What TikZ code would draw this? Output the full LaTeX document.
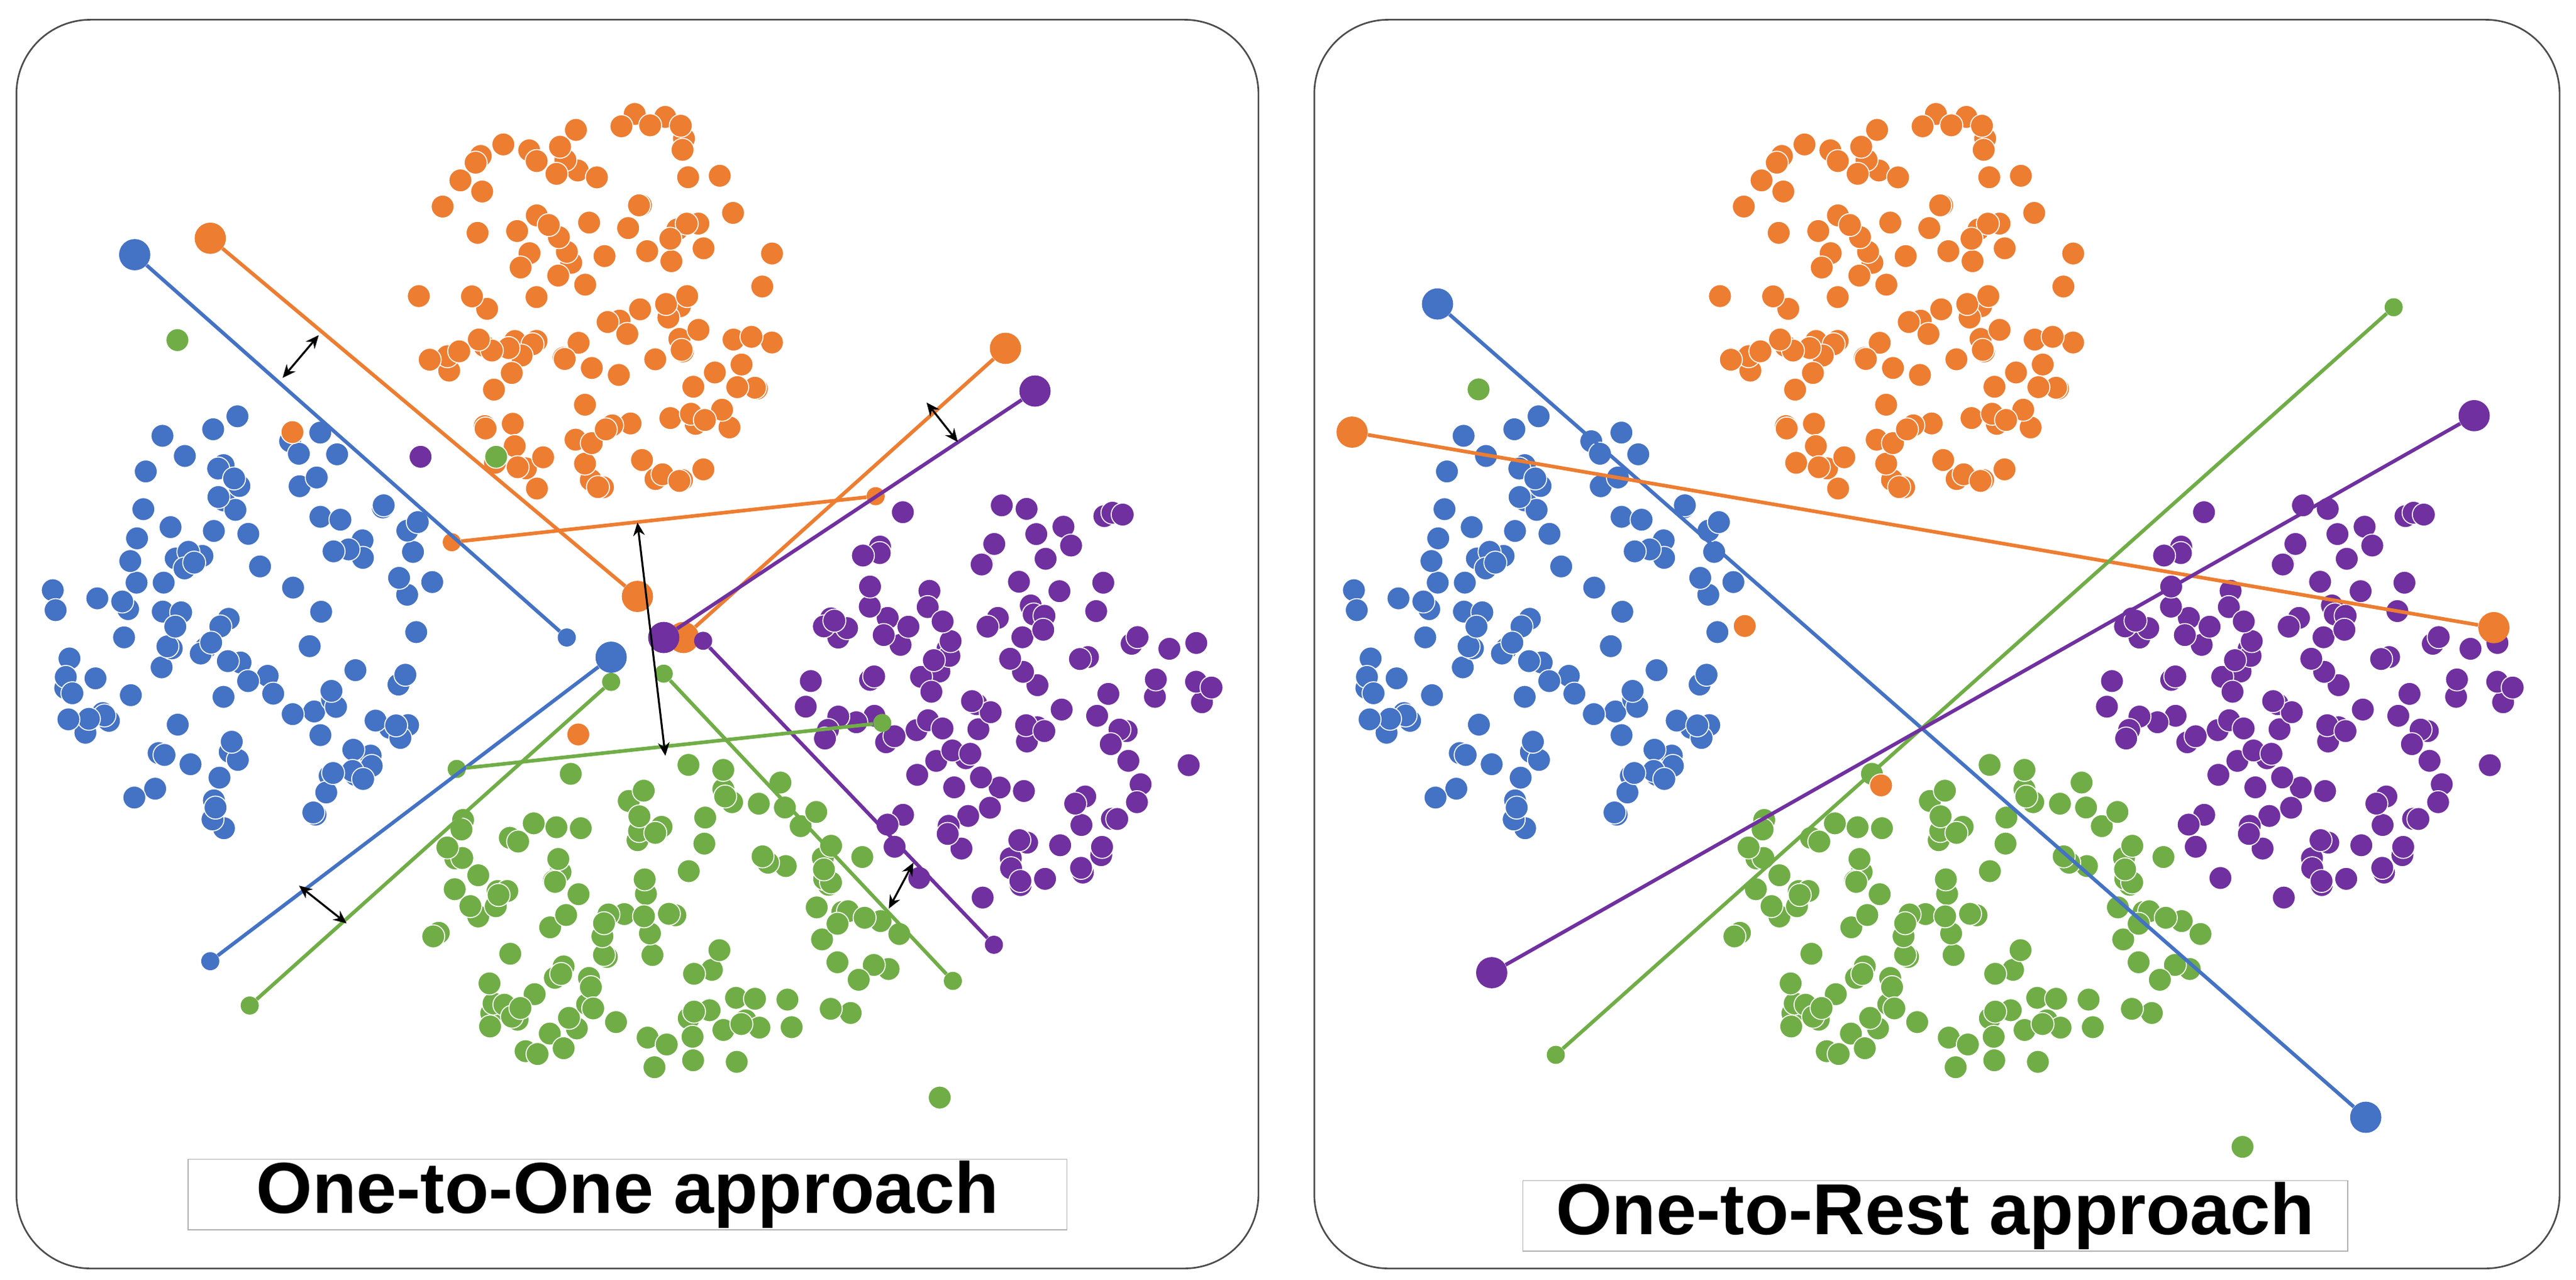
\documentclass[tikz,border=0pt]{standalone}
\usepackage{fontspec}
\setmainfont{Liberation Sans}
\usetikzlibrary{arrows.meta}
\definecolor{cb}{HTML}{4472C4}
\definecolor{co}{HTML}{ED7D31}
\definecolor{cg}{HTML}{70AD47}
\definecolor{cp}{HTML}{7030A0}
\begin{document}
\begin{tikzpicture}[x=1pt,y=-1pt,
  panel/.style={draw=black!70,line width=1pt,rounded corners=45pt},
  dot/.style={circle,inner sep=0pt,minimum size=14pt,draw=white,line width=0.6pt},
  big/.style={circle,inner sep=0pt,minimum size=19pt},
  sm/.style={circle,inner sep=0pt,minimum size=11pt},
  ln/.style={line width=2.2pt},
  dbl/.style={{Stealth[length=8pt,width=7pt]}-{Stealth[length=8pt,width=7pt]},line width=1.2pt},
  ttl/.style={font=\fontsize{44}{48}\selectfont\bfseries,draw=black!30,line width=0.6pt,inner xsep=20pt,inner ysep=1pt}]
\useasboundingbox[fill=white] (0,0) rectangle (1568,778.7);
\draw[panel] (10,12) rectangle (766,772);
\draw[panel] (800,12) rectangle (1558,772);
\pgfmathsetseed{7}
\foreach \c/\cx/\cy/\rx/\ry/\n in {co/365/185/112/122/125, cb/150/380/122/130/125, cp/615/420/125/128/130, cg/400/560/150/100/130}{
  \foreach \i in {1,...,\n}{
    \pgfmathsetmacro\a{rnd*360}
    \pgfmathsetmacro\r{sqrt(rnd)}
    \pgfmathsetmacro\px{\cx+\r*\rx*cos(\a)}
    \pgfmathsetmacro\py{\cy+\r*\ry*sin(\a)}
    \node[dot,fill=\c] at (\px,\py) {};
    \node[dot,fill=\c] at (\px+792,\py) {};
  }
}
% stray points
\node[dot,fill=cg] at (108,207) {};
\node[dot,fill=co] at (178,263) {};
\node[dot,fill=cp] at (256,278) {};
\node[dot,fill=cg] at (302,278) {};
\node[dot,fill=co] at (352,447) {};
\node[dot,fill=cg] at (572,668) {};
\node[dot,fill=cg] at (900,237) {};
\node[dot,fill=co] at (1062,381) {};
\node[dot,fill=co] at (1145,478) {};
\node[dot,fill=cg] at (1365,698) {};
% ---- left panel lines
\node[big,fill=cb] (b1a) at (82,155) {};
\node[sm,fill=cb] (b1b) at (345,388) {};
\node[big,fill=cb] (b2a) at (372,400) {};
\node[sm,fill=cb] (b2b) at (128,585) {};
\node[big,fill=co] (o1a) at (128,145) {};
\node[big,fill=co] (o1b) at (388,363) {};
\node[big,fill=co] (o2a) at (612,212) {};
\node[big,fill=co] (o2b) at (416,388) {};
\node[sm,fill=co] (o3a) at (275,330) {};
\node[sm,fill=co] (o3b) at (533,302) {};
\node[big,fill=cp] (p1a) at (630,238) {};
\node[big,fill=cp] (p1b) at (404,388) {};
\node[sm,fill=cp] (p2a) at (428,390) {};
\node[sm,fill=cp] (p2b) at (605,575) {};
\node[sm,fill=cg] (g1a) at (372,415) {};
\node[sm,fill=cg] (g1b) at (152,612) {};
\node[sm,fill=cg] (g2a) at (404,410) {};
\node[sm,fill=cg] (g2b) at (580,597) {};
\node[sm,fill=cg] (g3a) at (278,468) {};
\node[sm,fill=cg] (g3b) at (537,440) {};
\draw[ln,cb] (b1a)--(b1b); \draw[ln,cb] (b2a)--(b2b);
\draw[ln,co] (o1a)--(o1b); \draw[ln,co] (o2a)--(o2b); \draw[ln,co] (o3a)--(o3b);
\draw[ln,cp] (p1a)--(p1b); \draw[ln,cp] (p2a)--(p2b);
\draw[ln,cg] (g1a)--(g1b); \draw[ln,cg] (g2a)--(g2b); \draw[ln,cg] (g3a)--(g3b);
\coordinate (d1a) at (172,230); \coordinate (d1b) at (194,204);
\coordinate (d2a) at (564,245); \coordinate (d2b) at (583,269);
\coordinate (d3a) at (182,539); \coordinate (d3b) at (211,562);
\coordinate (d4a) at (541,553); \coordinate (d4b) at (556,525);
\coordinate (d5a) at (388,318); \coordinate (d5b) at (405,460);
\foreach \k in {1,...,5} \draw[dbl] (d\k a)--(d\k b);
% ---- right panel lines
\node[big,fill=cb] (rb1) at (875,185) {};
\node[big,fill=cb] (rb2) at (1440,680) {};
\node[big,fill=co] (ro1) at (823,263) {};
\node[big,fill=co] (ro2) at (1518,382) {};
\node[sm,fill=cg] (rg1) at (947,642) {};
\node[sm,fill=cg] (rg2) at (1457,187) {};
\node[big,fill=cp] (rp1) at (908,592) {};
\node[big,fill=cp] (rp2) at (1506,253) {};
\draw[ln,cb] (rb1)--(rb2); \draw[ln,co] (ro1)--(ro2);
\draw[ln,cg] (rg1)--(rg2); \draw[ln,cp] (rp1)--(rp2);
% titles
\node[ttl,minimum width=535pt] (t1) at (382,727) {One-to-One approach};
\node[ttl,minimum width=475pt] (t2) at (1178,740) {One-to-Rest approach};
\end{tikzpicture}
\end{document}
